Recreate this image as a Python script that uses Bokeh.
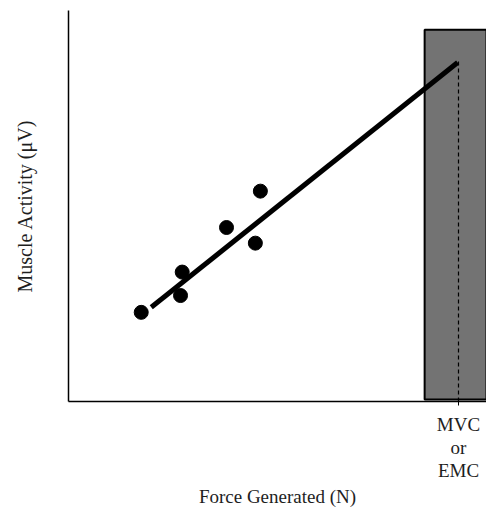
from bokeh.plotting import figure
from bokeh.models import Range1d, FixedTicker
from bokeh.embed import file_html
from bokeh.resources import INLINE

# Data (arbitrary units: force 0-100, activity 0-100)
force = [17.4, 27.2, 26.8, 37.8, 44.7, 45.9]
activity = [22.8, 33.1, 27.1, 44.5, 40.5, 53.8]
fit_x = [19.8, 93.1]
fit_y = [24.1, 86.7]
mvc_x = 93.3
mvc_top = 87.2
box_left, box_right = 85.2, 100.0
box_bottom, box_top = 0.5, 95.1
mvc_label = "MVC\nor\nEMC"

FONT = "Liberation Serif"

p = figure(width=486, height=510, output_backend="svg", toolbar_location=None,
           x_range=Range1d(0, 100), y_range=Range1d(0, 100),
           min_border_left=68, min_border_right=0, min_border_top=10, min_border_bottom=109)
p.outline_line_color = None
p.xgrid.grid_line_color = None
p.ygrid.grid_line_color = None

for ax in (p.xaxis[0], p.yaxis[0]):
    ax.axis_line_color = "black"
    ax.axis_line_width = 1.5
    ax.minor_tick_line_color = None
    ax.axis_label_text_font = FONT
    ax.axis_label_text_font_style = "normal"
    ax.axis_label_text_color = "#1e1e1e"
    ax.major_label_text_font = FONT
    ax.major_label_text_font_size = "19px"
    ax.major_label_text_color = "#1e1e1e"

p.yaxis[0].ticker = FixedTicker(ticks=[])
p.yaxis[0].major_tick_line_color = None
p.yaxis[0].axis_label = "Muscle Activity (\u03bcV)"
p.yaxis[0].axis_label_text_font_size = "20px"
p.yaxis[0].axis_label_standoff = 33

p.xaxis[0].ticker = FixedTicker(ticks=[mvc_x])
p.xaxis[0].major_label_overrides = {mvc_x: mvc_label}
p.xaxis[0].major_label_text_line_height = 1.1
p.xaxis[0].major_tick_in = 0
p.xaxis[0].major_tick_out = 4
p.xaxis[0].major_tick_line_color = "black"
p.xaxis[0].major_tick_line_width = 1
p.xaxis[0].major_label_standoff = 8
p.xaxis[0].axis_label = "Force Generated (N)"
p.xaxis[0].axis_label_text_font_size = "19px"
p.xaxis[0].axis_label_standoff = 2

# shaded MVC region
p.quad(left=[box_left], right=[box_right], bottom=[box_bottom], top=[box_top],
       fill_color="#737373", line_color="black", line_width=2)
p.segment(x0=[mvc_x], y0=[0], x1=[mvc_x], y1=[mvc_top],
          line_color="black", line_width=1.2, line_dash="4 3")

# regression line and points
p.line(fit_x, fit_y, line_color="black", line_width=5)
p.scatter(force, activity, size=14, fill_color="black", line_color="black")

open("out.html", "w").write(file_html(p, INLINE))
